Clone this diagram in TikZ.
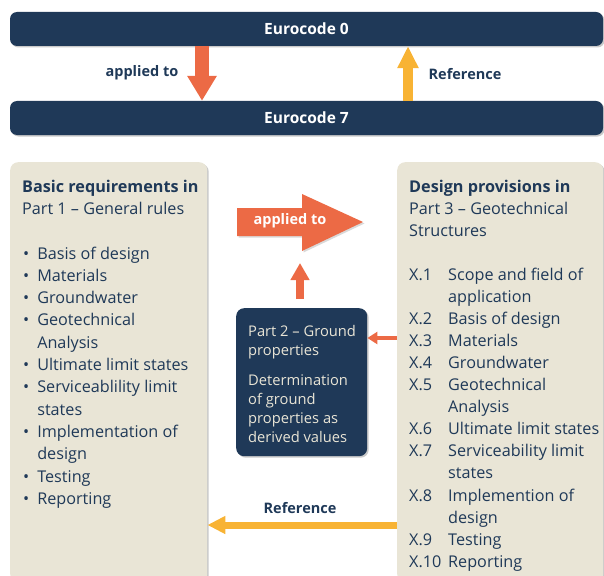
\documentclass[tikz,border=0pt]{standalone}
\usepackage{fontspec}
\setmainfont{Open Sans}
\usetikzlibrary{arrows.meta,shadows}
\definecolor{navy}{HTML}{1F3958}
\definecolor{orangeA}{HTML}{EC6A45}
\definecolor{yellowA}{HTML}{F8B334}
\definecolor{beige}{HTML}{E9E5D6}
\begin{document}
\begin{tikzpicture}[x=1pt,y=-1pt,
  shadowed/.style={drop shadow={shadow xshift=1.5pt,shadow yshift=-1.5pt,opacity=0.35,fill=black!60}},
  bar/.style={fill=navy,rounded corners=7pt,minimum width=593pt,minimum height=34pt,inner sep=0pt,
    text=white,font=\fontsize{15.5}{18}\selectfont\bfseries,shadowed},
  panel/.style={fill=beige,rounded corners=8pt,anchor=north west,inner sep=0pt,shadowed},
  darkbox/.style={fill=navy,rounded corners=8pt,anchor=north west,inner sep=0pt,shadowed},
  lbl/.style={font=\fontsize{14.5}{17}\selectfont\bfseries,text=navy,inner sep=0pt},
  listtxt/.style={anchor=base west,inner sep=0pt,text=navy,font=\fontsize{16.2}{22.3}\selectfont},
  bigorange/.style={draw=orangeA,line width=14pt,-{Triangle[width=28pt,length=25pt]}},
  bigyellow/.style={draw=yellowA,line width=10pt,-{Triangle[width=20pt,length=22pt]}},
  smallorange/.style={draw=orangeA,line width=8pt,-{Triangle[width=18pt,length=17pt]}},
  thinorange/.style={draw=orangeA,line width=4pt,-{Triangle[width=12pt,length=10pt]}},
  midyellow/.style={draw=yellowA,line width=7pt,-{Triangle[width=17pt,length=18pt]}}
]
\useasboundingbox (0,0) rectangle (604,575);

% top bars
\node[bar] (e0) at (306.5,29) {Eurocode 0};
\node[bar] (e7) at (306.5,118) {Eurocode 7};
\coordinate (ax1) at (202,0);
\coordinate (ax2) at (408,0);
\draw[bigorange] (e0.south -| ax1) -- (e7.north -| ax1);
\draw[bigyellow] (e7.north -| ax2) -- (e0.south -| ax2);
\node[lbl] (lapp) at (142,73) {applied to};
\node[lbl] (lref) at (465,74) {Reference};

% panels
\node[panel,minimum width=197pt,minimum height=420pt] (left) at (10,162) {};
\node[panel,minimum width=206pt,minimum height=420pt] (right) at (397,162) {};

% left panel text
\node[listtxt] (lt) at (22,192) {\begin{tabular}[t]{@{}l@{}}\textbf{Basic requirements in}\\Part 1 – General rules\end{tabular}};
\node[listtxt] (ll) at (23,259) {\begin{tabular}[t]{@{}l@{\hspace{8pt}}l@{}}
\textbullet & Basis of design\\
\textbullet & Materials\\
\textbullet & Groundwater\\
\textbullet & Geotechnical\\
 & Analysis\\
\textbullet & Ultimate limit states\\
\textbullet & Serviceablility limit\\
 & states\\
\textbullet & Implementation of\\
 & design\\
\textbullet & Testing\\
\textbullet & Reporting
\end{tabular}};

% right panel text
\node[listtxt] (rt) at (409,192) {\begin{tabular}[t]{@{}l@{}}\textbf{Design provisions in}\\Part 3 – Geotechnical\\Structures\end{tabular}};
\node[listtxt,font=\fontsize{16.2}{22.1}\selectfont] (rl) at (409,280) {\begin{tabular}[t]{@{}l@{}l@{}}
\makebox[39pt][l]{X.1} & Scope and field of\\
 & application\\
X.2 & Basis of design\\
X.3 & Materials\\
X.4 & Groundwater\\
X.5 & Geotechnical\\
 & Analysis\\
X.6 & Ultimate limit states\\
X.7 & Serviceability limit\\
 & states\\
X.8 & Implemention of\\
 & design\\
X.9 & Testing\\
X.10 & Reporting
\end{tabular}};

% part 2 box
\node[darkbox,minimum width=131pt,minimum height=148pt] (p2) at (236,308) {};
\node[anchor=base west,inner sep=0pt,text=beige,font=\fontsize{14.7}{19}\selectfont] (p2t) at (248,336)
 {\begin{tabular}[t]{@{}l@{}}Part 2 – Ground\\properties\\[11pt]Determination\\of ground\\properties as\\derived values\end{tabular}};

% big "applied to" arrow
\fill[orangeA,drop shadow={shadow xshift=1.5pt,shadow yshift=-1.5pt,opacity=0.25,fill=black!60}]
  (237,208) -- (302,208) -- (302,194) -- (363,222) -- (302,251) -- (302,236) -- (237,236) -- cycle;
\node[font=\fontsize{14.5}{17}\selectfont\bfseries,text=white,inner sep=0pt] (bigapp) at (290,221) {applied to};

% connectors
\coordinate (ax3) at (300,0);
\coordinate (uptip) at (300,263);
\draw[smallorange,shorten <=9pt] (p2.north -| ax3) -- (uptip);
\coordinate (ay1) at (0,338);
\draw[thinorange] (right.west |- ay1) -- (p2.east |- ay1);
\coordinate (ay2) at (0,525);
\draw[midyellow] (right.west |- ay2) -- (left.east |- ay2);
\node[lbl] (bref) at (300,508) {Reference};
\end{tikzpicture}
\end{document}
